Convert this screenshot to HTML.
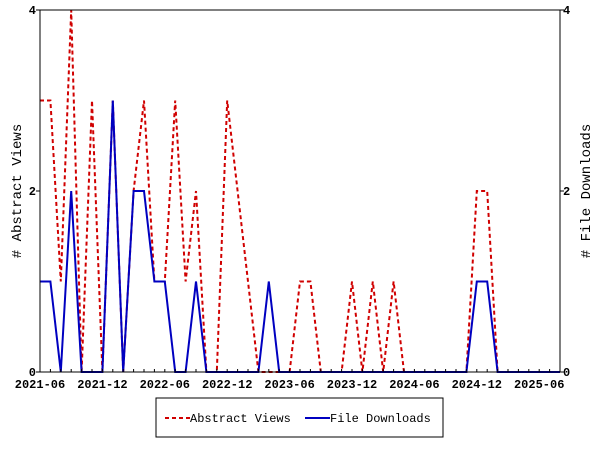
<!DOCTYPE html>
<html><head><meta charset="utf-8"><style>
body{margin:0;background:#fff;}
svg text{font-family:"Liberation Mono",monospace;}
</style></head><body>
<svg id="chart" width="600" height="450" xmlns="http://www.w3.org/2000/svg">
<rect width="600" height="450" fill="#fff"/>
<g id="grid"></g>
<g id="series"></g>
<g id="axes"></g>
<text transform="translate(21,191) rotate(-90)" text-anchor="middle" font-size="14">&#35; Abstract Views</text>
<text transform="translate(590,191) rotate(-90)" text-anchor="middle" font-size="14">&#35; File Downloads</text>
<g>
<rect x="156" y="398" width="287" height="39" fill="#fff" stroke="#000"/>
<line x1="165" y1="418" x2="190" y2="418" stroke="#d00000" stroke-width="2" stroke-dasharray="4,3"/>
<text x="190" y="422" font-size="12">Abstract Views</text>
<line x1="305" y1="418" x2="330" y2="418" stroke="#0000c0" stroke-width="2"/>
<text x="330" y="422" font-size="12">File Downloads</text>
</g>
</svg>
<script>
const abstractViews=[3,3,1,4,0,3,0,3,0,2,3,1,1,3,1,2,0,0,3,2,1,0,0,0,0,1,1,0,0,0,1,0,1,0,1,0,0,0,0,0,0,0,2,2,0,0,0,0,0,0,0];
const fileDownloads=[1,1,0,2,0,0,0,3,0,2,2,1,1,0,0,1,0,0,0,0,0,0,1,0,0,0,0,0,0,0,0,0,0,0,0,0,0,0,0,0,0,0,1,1,0,0,0,0,0,0,0];
const xTickLabels=["2021-06","2021-12","2022-06","2022-12","2023-06","2023-12","2024-06","2024-12","2025-06"];
const yTickLabels=[0,2,4];
const X0=40,X1=560,Y0=372,Y1=10,N=abstractViews.length;
const xs=i=>X0+i*(X1-X0)/(N-1);
const ys=v=>Y0-v*(Y0-Y1)/4;
const NS="http://www.w3.org/2000/svg";
const axes=document.getElementById('axes'),series=document.getElementById('series');
function mk(tag,attrs,parent){const e=document.createElementNS(NS,tag);for(const k in attrs)e.setAttribute(k,attrs[k]);parent.appendChild(e);return e;}
const frame=mk('rect',{x:X0,y:Y1,width:X1-X0,height:Y0-Y1,fill:'none',stroke:'#000'},axes);


for(let i=0;i<N;i++){
  mk('line',{x1:xs(i),x2:xs(i),y1:Y0,y2:Y0-3,stroke:'#000'},axes);
}
xTickLabels.forEach((l,j)=>{
  const t=mk('text',{x:xs(j*6),y:Y0+16,'text-anchor':'middle','font-size':'12','font-weight':'bold'},axes);
  t.textContent=l;
  
  
});
yTickLabels.forEach(v=>{
  mk('line',{x1:X0-4,x2:X0,y1:ys(v),y2:ys(v),stroke:'#000'},axes);
  mk('line',{x1:X1,x2:X1+4,y1:ys(v),y2:ys(v),stroke:'#000'},axes);
  const t=mk('text',{x:X0-4,y:ys(v)+4,'text-anchor':'end','font-size':'12','font-weight':'bold'},axes);
  t.textContent=v;
  
  
  const t2=mk('text',{x:X1+3,y:ys(v)+4,'text-anchor':'start','font-size':'12','font-weight':'bold'},axes);
  t2.textContent=v;
  
  
});
const pts=a=>a.map((v,i)=>xs(i)+','+ys(v)).join(' ');
const l1=mk('polyline',{points:pts(abstractViews),fill:'none',stroke:'#d00000','stroke-width':2,'stroke-dasharray':'4,3'},series);


const l2=mk('polyline',{points:pts(fileDownloads),fill:'none',stroke:'#0000c0','stroke-width':2},series);


</script>
</body></html>
